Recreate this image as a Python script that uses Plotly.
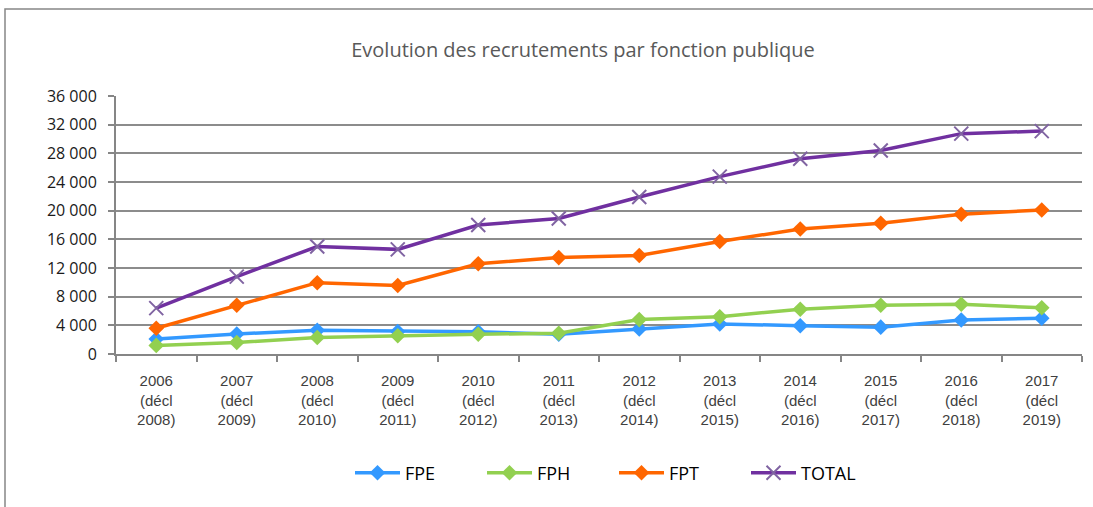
import plotly.graph_objects as go

years = ["2006", "2007", "2008", "2009", "2010", "2011", "2012", "2013", "2014", "2015", "2016", "2017"]
decl = ["2008", "2009", "2010", "2011", "2012", "2013", "2014", "2015", "2016", "2017", "2018", "2019"]
categories = [f"{y}<br>(décl<br>{d})" for y, d in zip(years, decl)]

fpe = [2100, 2800, 3300, 3150, 3100, 2750, 3500, 4200, 3950, 3750, 4750, 5000]
fph = [1200, 1600, 2300, 2550, 2750, 2900, 4800, 5200, 6250, 6800, 6950, 6450]
fpt = [3600, 6800, 9950, 9550, 12600, 13450, 13750, 15700, 17450, 18250, 19500, 20100]
total = [6400, 10800, 15000, 14600, 18000, 18900, 21900, 24750, 27250, 28400, 30750, 31100]

y_ticks = list(range(0, 36001, 4000))
y_tick_text = ["0" if v == 0 else f"{v // 1000} 000" for v in y_ticks]

series = [
    ("FPE", fpe, "#3399FF"),
    ("FPH", fph, "#92D050"),
    ("FPT", fpt, "#FF6600"),
]

fig = go.Figure()
for name, vals, color in series:
    fig.add_trace(go.Scatter(
        x=categories, y=vals, name=name, mode="lines+markers",
        line=dict(color=color, width=3.5),
        marker=dict(symbol="diamond", size=12, color=color),
    ))
fig.add_trace(go.Scatter(
    x=categories, y=total, name="TOTAL", mode="lines+markers",
    line=dict(color="#7030A0", width=3.5),
    marker=dict(symbol="x-thin", size=14, line=dict(color="#8064A2", width=2), color="#8064A2"),
))

L, R, T, B = 116, 11, 96, 153
W, H = 1093, 507
pw, ph = W - L - R, H - T - B
sans = "Open Sans, Liberation Sans, sans-serif"

fig.update_layout(
    width=W, height=H,
    margin=dict(l=L, r=R, t=T, b=B),
    paper_bgcolor="white", plot_bgcolor="white",
    font=dict(family=sans, color="#404040"),
    title=dict(text="Evolution des recrutements par fonction publique",
               x=583 / W, xanchor="center", y=1 - 50 / H, yanchor="middle",
               font=dict(size=20, color="#595959", family=sans)),
    showlegend=True,
    legend=dict(orientation="h", x=(350 - L) / pw, xanchor="left",
                y=-(473 - (T + ph)) / ph, yanchor="middle",
                font=dict(size=18, color="#000000", family=sans),
                itemwidth=45,
                entrywidth=72, entrywidthmode="pixels",
                bgcolor="rgba(0,0,0,0)"),
    xaxis=dict(type="category", showgrid=False, showline=True, linecolor="#868686", linewidth=2,
               ticks="outside", tickson="boundaries", ticklen=6, tickcolor="#868686", tickwidth=1.5,
               ticklabelstandoff=12,
               tickfont=dict(size=15, color="#404040", family="Liberation Sans, sans-serif"),
               range=[-0.5, 11.5], fixedrange=True),
    yaxis=dict(range=[0, 36000], tickvals=y_ticks, ticktext=y_tick_text,
               showgrid=True, gridcolor="#8C8C8C", gridwidth=1.5,
               showline=True, linecolor="#868686", linewidth=2,
               ticks="outside", ticklen=6, tickcolor="#868686", tickwidth=1.5,
               ticklabelstandoff=8,
               tickfont=dict(size=16, color="#1a1a1a", family=sans), zeroline=False),
)

fig.add_shape(type="rect", xref="paper", yref="paper",
              x0=(5 - L) / pw, x1=(1100 - L) / pw,
              y0=-(512 - (T + ph)) / ph, y1=1 + (T - 9) / ph,
              line=dict(color="#868686", width=1.5), fillcolor="rgba(0,0,0,0)", layer="below")

fig.write_html("out.html", config={"displayModeBar": False},
               post_script="document.body.style.margin='0';")
